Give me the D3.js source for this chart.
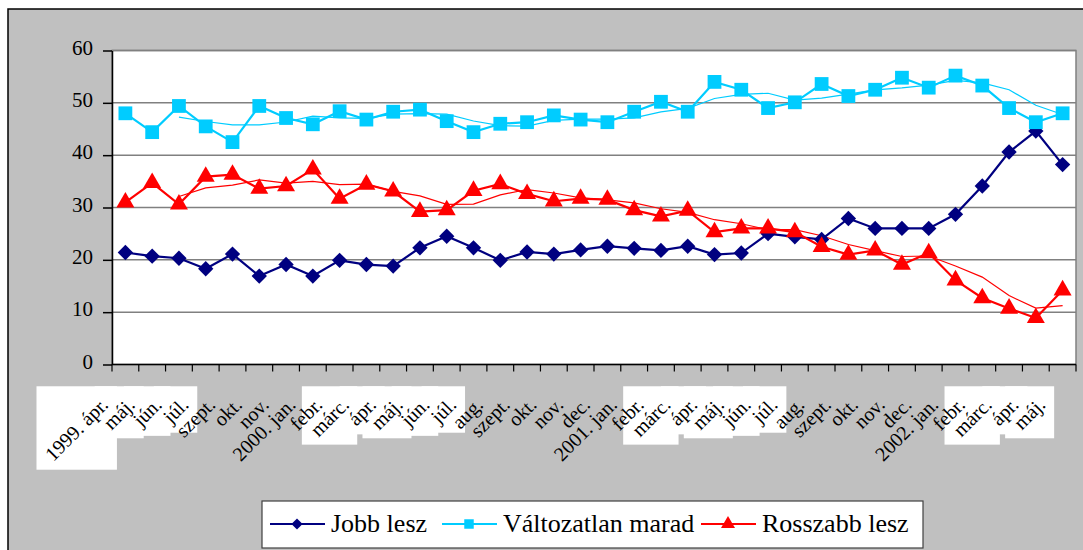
<!DOCTYPE html>
<html>
<head>
<meta charset="utf-8">
<script src="https://cdn.jsdelivr.net/npm/d3@7"></script>
<style>
    body { margin: 0; background: #ffffff; }
    svg text { font-family: "Liberation Serif", "Times New Roman", serif; fill: #000000; }
</style>
</head>
<body>
<div id="chart"></div>
<script>
// month labels (category axis)
const months = ["1999. ápr.", "máj.", "jún.", "júl.", "szept.", "okt.", "nov.",
    "2000. jan.", "febr.", "márc.", "ápr.", "máj.", "jún.", "júl.", "aug.", "szept.", "okt.", "nov.", "dec.",
    "2001. jan.", "febr.", "márc.", "ápr.", "máj.", "jún.", "júl.", "aug.", "szept.", "okt.", "nov.", "dec.",
    "2002. jan.", "febr.", "márc.", "ápr.", "máj."];

// series values (%)
const jobbLesz = [21.4, 20.7, 20.3, 18.3, 21.1, 16.9, 19.1, 16.9, 19.9, 19.1, 18.8, 22.3,
    24.5, 22.3, 19.9, 21.5, 21.1, 21.9, 22.6, 22.2, 21.8, 22.6, 21.0, 21.3,
    25.0, 24.4, 23.9, 27.9, 26.0, 26.0, 26.0, 28.7, 34.1, 40.6, 44.6, 38.2];
const valtozatlanMarad = [48.0, 44.4, 49.4, 45.5, 42.5, 49.4, 47.1, 45.9, 48.4, 46.8, 48.3, 48.7,
    46.5, 44.4, 46.0, 46.3, 47.6, 46.8, 46.3, 48.3, 50.2, 48.3, 54.0, 52.5,
    49.0, 50.1, 53.6, 51.3, 52.5, 54.8, 52.9, 55.2, 53.3, 49.0, 46.3, 48.0];
const rosszabbLesz = [31.0, 34.7, 30.6, 35.9, 36.3, 33.6, 34.1, 37.3, 31.7, 34.4, 33.1, 29.2,
    29.5, 33.2, 34.5, 32.6, 31.2, 31.7, 31.5, 29.5, 28.3, 29.4, 25.3, 26.0,
    26.0, 25.3, 22.5, 21.0, 21.8, 19.1, 21.3, 16.1, 12.7, 10.7, 8.9, 14.2];

const yTicks = [0, 10, 20, 30, 40, 50, 60];

// labels that came out as white patches in the original export
const patchedLabels = [0, 1, 2, 3, 9, 10, 11, 12, 13, 21, 22, 23, 24, 25, 33, 34, 35];

const series = [
    {name: "Jobb lesz", values: jobbLesz, color: "#000080", marker: "diamond", trend: false},
    {name: "Változatlan marad", values: valtozatlanMarad, color: "#00ccff", marker: "square", trend: true},
    {name: "Rosszabb lesz", values: rosszabbLesz, color: "#ff0000", marker: "triangle", trend: true}
];

// 3 period moving average trendline, like the spreadsheet one
function movingAverage(values, period) {
    return values.map((v, i) => i < period - 1 ? null : d3.mean(values.slice(i - period + 1, i + 1)));
}

const width = 1083, height = 550;
const plot = {left: 112, right: 1076, top: 50.5, bottom: 364.5};

const svg = d3.select("#chart")
    .append("svg")
    .attr("width", width)
    .attr("height", height);

// chart area
svg.append("rect")
    .attr("x", 8)
    .attr("y", 9)
    .attr("width", 1090)
    .attr("height", 560)
    .attr("fill", "#c0c0c0")
    .attr("stroke", "#000000")
    .attr("stroke-width", 1.5);

// plot area
svg.append("rect")
    .attr("x", plot.left)
    .attr("y", plot.top)
    .attr("width", plot.right - plot.left)
    .attr("height", plot.bottom - plot.top)
    .attr("fill", "#ffffff")
    .attr("stroke", "#808080")
    .attr("stroke-width", 1.5);

const x = d3.scaleBand()
    .domain(d3.range(months.length))
    .range([plot.left, plot.right]);

const y = d3.scaleLinear()
    .domain([0, 60])
    .range([plot.bottom, plot.top]);

// gridlines
svg.append("g")
    .selectAll("line")
    .data(yTicks.slice(1))
    .join("line")
    .attr("x1", plot.left)
    .attr("x2", plot.right)
    .attr("y1", d => y(d))
    .attr("y2", d => y(d))
    .attr("stroke", "#808080")
    .attr("stroke-width", 1.5);

// y axis
const yAxis = svg.append("g")
    .attr("transform", "translate(" + plot.left + ",0)")
    .call(d3.axisLeft(y).tickValues(yTicks).tickSize(9).tickPadding(10).tickSizeOuter(0));
yAxis.select(".domain").attr("stroke", "#000000").attr("stroke-width", 1.5);
yAxis.selectAll(".tick line").attr("stroke", "#000000").attr("stroke-width", 1.5);
yAxis.selectAll("text")
    .attr("font-size", "21px")
    .attr("font-family", "Liberation Serif, serif")
    .attr("dy", "0.18em");

// x axis: ticks between categories
const bounds = d3.range(months.length + 1).map(i => i < months.length ? x(i) : x.range()[1]);
svg.append("line")
    .attr("x1", plot.left)
    .attr("x2", plot.right)
    .attr("y1", plot.bottom)
    .attr("y2", plot.bottom)
    .attr("stroke", "#000000")
    .attr("stroke-width", 1.5);
svg.append("g")
    .selectAll("line")
    .data(bounds)
    .join("line")
    .attr("x1", d => d)
    .attr("x2", d => d)
    .attr("y1", plot.bottom)
    .attr("y2", plot.bottom + 7)
    .attr("stroke", "#000000")
    .attr("stroke-width", 1.2);

// x labels, rotated
const patchLayer = svg.append("g");
const labels = svg.append("g")
    .selectAll("text")
    .data(months)
    .join("text")
    .attr("text-anchor", "end")
    .attr("font-size", "20px")
    .attr("transform", (d, i) => "translate(" + (x(i) + x.bandwidth() / 2 - 16) + "," + 406 + ") rotate(-45)")
    .text(d => d);

labels.filter((d, i) => patchedLabels.includes(i)).each(function() {
    const b = this.getBBox();
    const m = this.getCTM();
    const corners = [[b.x, b.y], [b.x + b.width, b.y], [b.x, b.y + b.height], [b.x + b.width, b.y + b.height]]
        .map(([px, py]) => [m.a * px + m.c * py + m.e, m.b * px + m.d * py + m.f]);
    const x0 = d3.min(corners, c => c[0]) - 4, x1 = d3.max(corners, c => c[0]) + 4;
    const y0 = d3.min(corners, c => c[1]) - 7, y1 = d3.max(corners, c => c[1]) + 4;
    patchLayer.append("rect")
        .attr("x", x0)
        .attr("y", y0)
        .attr("width", x1 - x0)
        .attr("height", y1 - y0)
        .attr("fill", "#ffffff");
});

// marker shapes
const markerSymbol = {
    diamond: d3.symbol().type(d3.symbolDiamond2).size(150),
    square: d3.symbol().type(d3.symbolSquare).size(190),
    triangle: d3.symbol().type(d3.symbolTriangle).size(140)
};
const legendSymbol = {
    diamond: d3.symbol().type(d3.symbolDiamond2).size(80),
    square: d3.symbol().type(d3.symbolSquare).size(90),
    triangle: d3.symbol().type(d3.symbolTriangle).size(85)
};

const line = d3.line()
    .defined(d => d !== null)
    .x((d, i) => x(i) + x.bandwidth() / 2)
    .y(d => y(d));

// trendlines
series.filter(s => s.trend).forEach(s => {
    svg.append("path")
        .attr("d", line(movingAverage(s.values, 3)))
        .attr("fill", "none")
        .attr("stroke", s.color)
        .attr("stroke-width", 1.2);
});

// series lines and markers
series.forEach(s => {
    svg.append("path")
        .attr("d", line(s.values))
        .attr("fill", "none")
        .attr("stroke", s.color)
        .attr("stroke-width", 2.2);

    svg.append("g")
        .selectAll("path")
        .data(s.values)
        .join("path")
        .attr("transform", (d, i) => "translate(" + (x(i) + x.bandwidth() / 2) + "," + y(d) + ")")
        .attr("d", markerSymbol[s.marker])
        .attr("fill", s.color);
});

// legend
const legend = svg.append("g");
legend.append("rect")
    .attr("x", 262)
    .attr("y", 501)
    .attr("width", 661)
    .attr("height", 47)
    .attr("fill", "#ffffff")
    .attr("stroke", "#404040")
    .attr("stroke-width", 1.2);

const legendPos = [270, 442, 701];
series.forEach((s, i) => {
    const lx = legendPos[i];
    legend.append("line")
        .attr("x1", lx)
        .attr("x2", lx + 55)
        .attr("y1", 524)
        .attr("y2", 524)
        .attr("stroke", s.color)
        .attr("stroke-width", 2.2);
    legend.append("path")
        .attr("transform", "translate(" + (lx + 27) + ",524)")
        .attr("d", legendSymbol[s.marker])
        .attr("fill", s.color);
    legend.append("text")
        .attr("x", lx + 61)
        .attr("y", 532)
        .attr("font-size", "26px")
        .text(s.name);
});
</script>
</body>
</html>
